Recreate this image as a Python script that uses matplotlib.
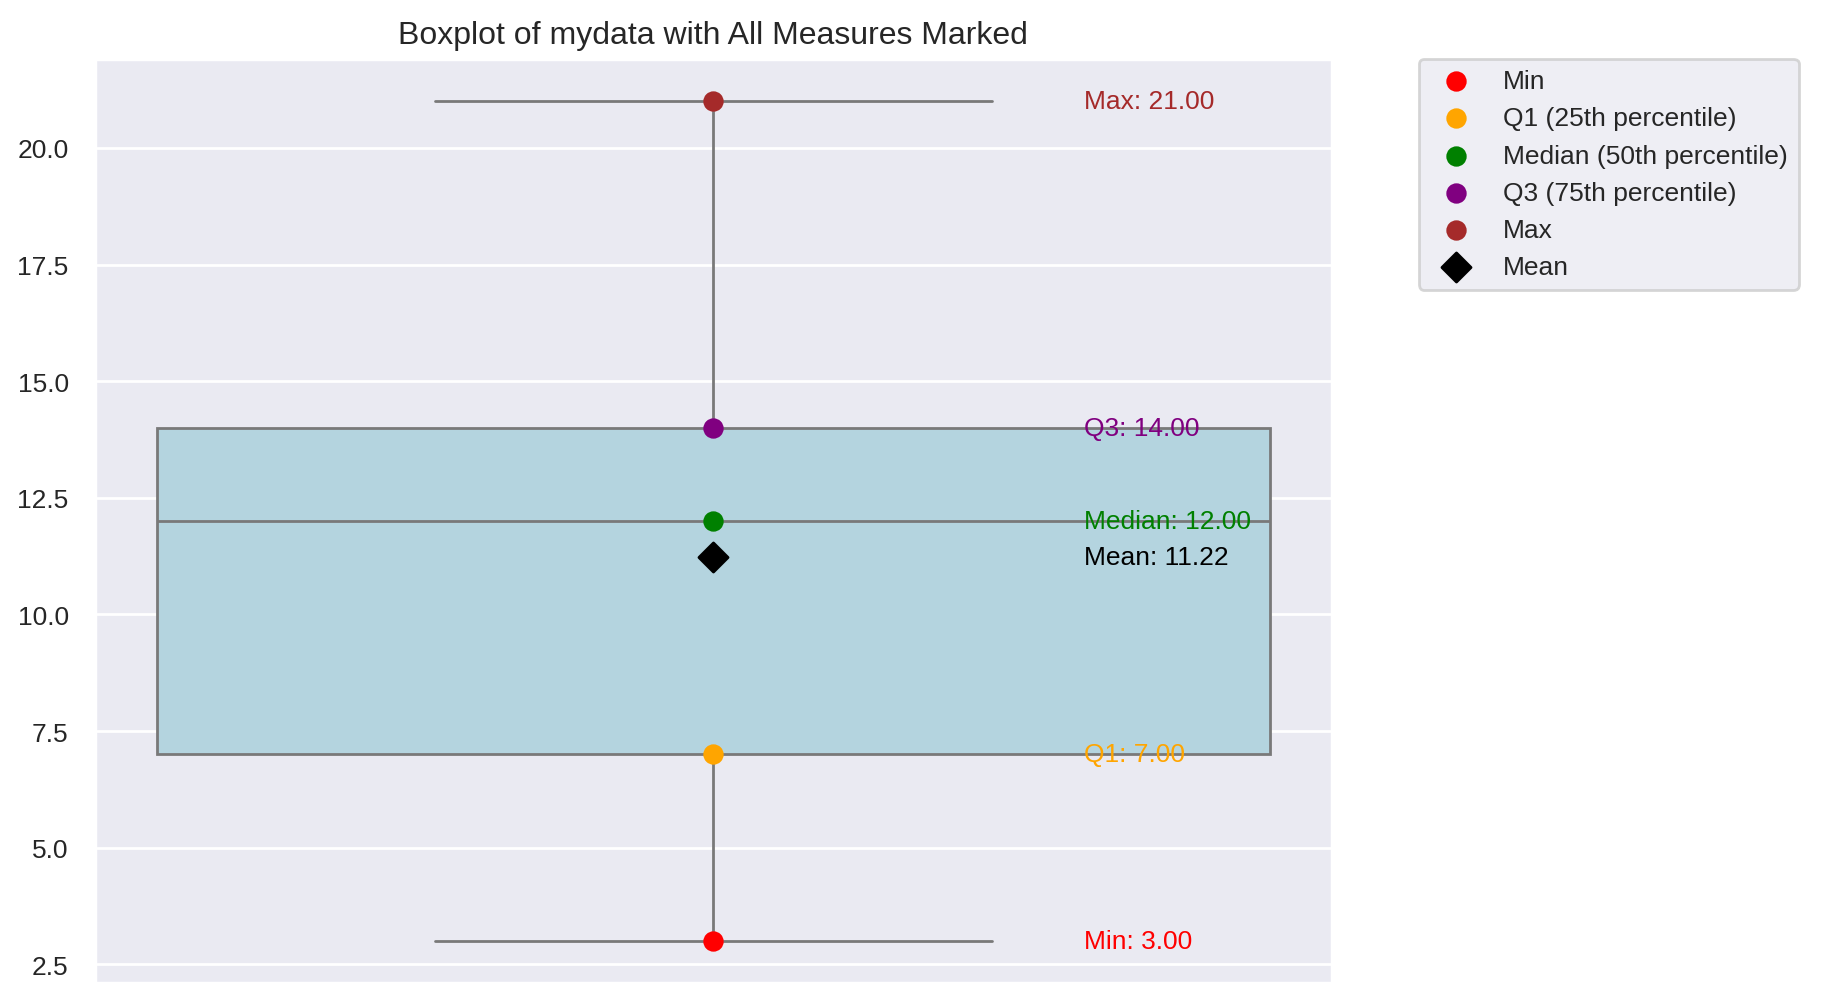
import numpy as np
import matplotlib.pyplot as plt
import seaborn as sns

mydata = [3, 5, 7, 10, 12, 13, 14, 16, 21]
labels = ["Min", "Q1 (25th percentile)", "Median (50th percentile)", "Q3 (75th percentile)", "Max"]
short = ["Min", "Q1", "Median", "Q3", "Max"]
colors = ["red", "orange", "green", "purple", "brown"]

sns.set_theme(style="darkgrid")
plt.rcParams["font.family"] = ["Liberation Sans", "DejaVu Sans"]
fig = plt.figure(figsize=(1829 / 200, 1004 / 200), dpi=200)
ax = fig.add_axes([0.052, 0.02, 0.676, 0.92])

sns.boxplot(y=mydata, ax=ax, color="lightblue", width=0.9)

stats = [np.min(mydata), np.percentile(mydata, 25), np.median(mydata),
         np.percentile(mydata, 75), np.max(mydata)]
mean = np.mean(mydata)

for v, lab, sh, c in zip(stats, labels, short, colors):
    ax.scatter(0, v, color=c, s=40, zorder=5, label=lab)
    ax.text(0.3, v, f"{sh}: {v:.2f}", color=c, va="center", fontsize=9.5)
ax.scatter(0, mean, color="black", marker="D", s=55, zorder=6, label="Mean")
ax.text(0.3, mean, f"Mean: {mean:.2f}", color="black", va="center", fontsize=9.5)

ax.set_xlim(-0.5, 0.5)
ax.set_ylim(2.1, 21.9)
ax.tick_params(axis="y", labelsize=9.5)
ax.set_title("Boxplot of mydata with All Measures Marked", fontsize=11.5)
ax.legend(bbox_to_anchor=(1.06, 1.015), loc="upper left", fontsize=9.5)

fig.savefig("out.png", dpi=200)
